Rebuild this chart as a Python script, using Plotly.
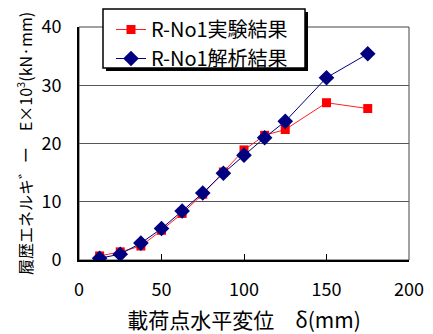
import plotly.graph_objects as go

disp = [12.5, 25, 37.5, 50, 62.5, 75, 87.5, 100, 112.5, 125, 150, 175]
exp_vals = [0.7, 1.4, 2.4, 5.1, 8.0, 11.3, 15.1, 18.9, 21.4, 22.4, 27.0, 26.0]
ana_vals = [0.3, 1.0, 2.9, 5.4, 8.4, 11.5, 14.9, 18.0, 21.0, 23.8, 31.3, 35.4]
x_ticks = [0, 50, 100, 150, 200]
y_ticks = [0, 10, 20, 30, 40]

FONT = "Noto Sans CJK JP"
OFF = 8  # page body margin
W, H = 433 - OFF, 334 - OFF
L, R, T, B = 79, 409, 27, 260  # page pixel coords of plot area


def px(x):
    return (x - L) / (R - L)


def py(y):
    return (B - y) / (B - T)


fig = go.Figure()
fig.add_trace(go.Scatter(
    x=disp, y=exp_vals, name="R-No1実験結果", mode="lines+markers",
    line=dict(color="#ff2020", width=1),
    marker=dict(symbol="square", size=9, color="#ff0000"),
))
fig.add_trace(go.Scatter(
    x=disp, y=ana_vals, name="R-No1解析結果", mode="lines+markers",
    line=dict(color="#000080", width=1),
    marker=dict(symbol="diamond", size=12, color="#000080"),
))

# frame
fig.add_shape(type="rect", xref="paper", yref="paper", x0=0, y0=0, x1=1, y1=1,
              line=dict(color="#444", width=1), layer="below")
# legend shadow + box
fig.add_shape(type="rect", xref="paper", yref="paper",
              x0=px(106), x1=px(308), y0=py(71), y1=py(12),
              line=dict(width=0), fillcolor="black", layer="above")
fig.add_shape(type="rect", xref="paper", yref="paper",
              x0=px(103), x1=px(305), y0=py(68), y1=py(9),
              line=dict(width=1.5, color="black"), fillcolor="white", layer="above")

fig.update_layout(
    width=W, height=H,
    margin=dict(l=L - OFF, r=433 - R, t=T - OFF, b=334 - B, autoexpand=False),
    paper_bgcolor="white", plot_bgcolor="white",
    font=dict(family=FONT, size=17, color="black"),
    showlegend=True,
    legend=dict(x=px(111), y=py(10), xanchor="left", yanchor="top",
                bgcolor="rgba(0,0,0,0)", borderwidth=0,
                font=dict(family=FONT, size=20), itemwidth=30,
                tracegroupgap=0),
    xaxis=dict(range=[0, 200], tickvals=x_ticks, ticks="inside", ticklen=6,
               tickcolor="black", showgrid=False, zeroline=False,
               showline=True, linecolor="black", linewidth=2,
               tickfont=dict(size=18), ticklabelstandoff=12, automargin=False,
               title=dict(text="載荷点水平変位　δ(mm)", font=dict(size=21), standoff=16)),
    yaxis=dict(range=[0, 40], tickvals=y_ticks, ticks="", showgrid=True,
               gridcolor="#555", gridwidth=1, zeroline=False,
               showline=True, linecolor="black", linewidth=2,
               tickfont=dict(size=18), ticklabelstandoff=12, automargin=False,
               title=dict(text="履歴エネルキ゛ー　E×10<sup>3</sup>(kN·mm)", font=dict(size=16), standoff=5)),
)

fig.write_html("out.html")
